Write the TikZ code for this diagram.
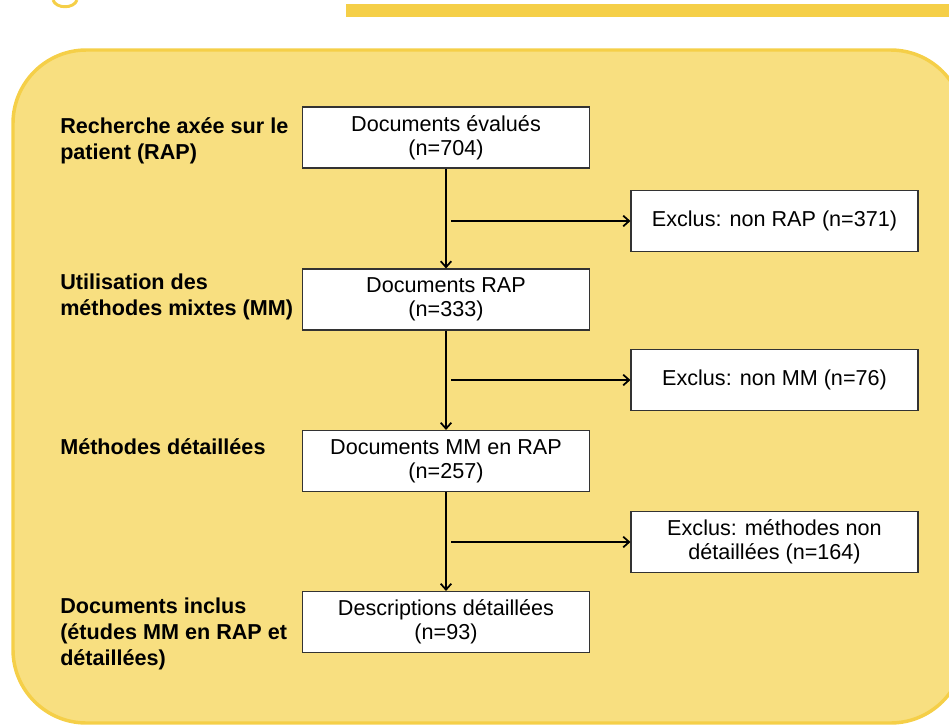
\documentclass[tikz,border=0pt]{standalone}
\usepackage{fontspec}
\setmainfont{Liberation Sans}
\usetikzlibrary{arrows.meta}
\definecolor{panelfill}{HTML}{F8DF80}
\definecolor{panelborder}{HTML}{F5CF48}
\definecolor{boxline}{HTML}{333333}
\tikzset{
  stagebox/.style={draw=boxline, line width=0.8pt, fill=white, minimum width=215.25pt, minimum height=45.75pt, inner sep=0pt, align=center, font=\fontsize{16.2}{18}\selectfont},
  sidelabel/.style={anchor=north west, inner sep=0pt, align=left, font=\fontsize{16.2}{19.2}\selectfont\bfseries},
  flow/.style={line width=1.3pt, -{Straight Barb[length=4.5pt,width=8pt,line width=1.3pt]}},
}
\begin{document}
\begin{tikzpicture}[x=0.75pt,y=-0.75pt]
\useasboundingbox (0,0) rectangle (949,725);
\begin{scope}
\clip (0,0) rectangle (949,725);
% heading fragment and top bar
\draw[panelborder, line width=2.2pt] (53,0) .. controls (56,9) and (74,9) .. (77,0);
\fill[panelborder] (346,4) rectangle (960,17);
% panel
\draw[panelborder, fill=panelfill, line width=2.6pt, rounded corners=55pt] (13,50) rectangle (964,723);
\end{scope}

% left labels
\node[sidelabel] (l1) at (60,117.5) {Recherche axée sur le\\patient (RAP)};
\node[sidelabel] (l2) at (60,273.5) {Utilisation des\\méthodes mixtes (MM)};
\node[sidelabel] (l3) at (60,438.5) {Méthodes détaillées};
\node[sidelabel] (l4) at (60,598) {Documents inclus\\(études MM en RAP et\\détaillées)};

% main boxes
\node[stagebox] (b1) at (446,137.5) {Documents évalués\\(n=704)};
\node[stagebox] (b2) at (446,299.5) {Documents RAP\\(n=333)};
\node[stagebox] (b3) at (446,461) {Documents MM en RAP\\(n=257)};
\node[stagebox] (b4) at (446,622) {Descriptions détaillées\\(n=93)};

% exclusion boxes
\node[stagebox] (e1) at (774.5,221) {Exclus: non RAP (n=371)};
\node[stagebox] (e2) at (774.5,380) {Exclus: non MM (n=76)};
\node[stagebox] (e3) at (774.5,542) {Exclus: méthodes non\\détaillées (n=164)};

% connectors
\draw[flow] (b1) -- (b2);
\draw[flow] (b2) -- (b3);
\draw[flow] (b3) -- (b4);
\coordinate (s1) at (451,221);
\coordinate (s2) at (451,380);
\coordinate (s3) at (451,542);
\draw[flow] (s1) -- (e1);
\draw[flow] (s2) -- (e2);
\draw[flow] (s3) -- (e3);
\end{tikzpicture}
\end{document}
